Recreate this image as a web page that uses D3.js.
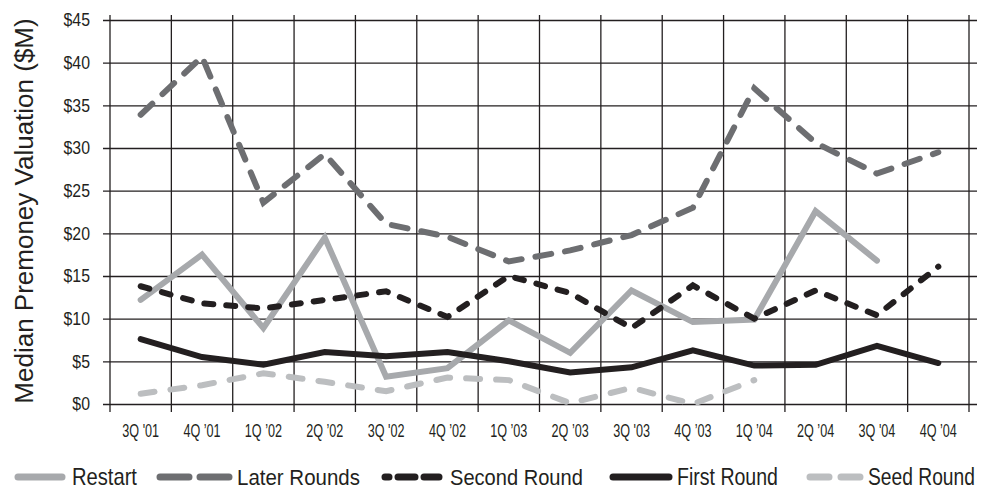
<!DOCTYPE html>
<html>
<head>
<meta charset="utf-8">
<script src="https://cdn.jsdelivr.net/npm/d3@7"></script>
<style>
  body { margin: 0; background: #fff; }
  svg { display: block; }
  text { font-family: "Liberation Sans", Arial, sans-serif; }
</style>
</head>
<body>
<svg width="982" height="491"></svg>
<script>
// data
const quarters = ["3Q '01","4Q \u201901","1Q \u201902","2Q \u201902","3Q '02","4Q \u201902","1Q \u201903",
                  "2Q \u201903","3Q '03","4Q \u201903","1Q \u201904","2Q \u201904","3Q '04","4Q \u201904"];
const restart      = [12.2, 17.5, 8.9, 19.5, 3.2, 4.2, 9.8, 6.0, 13.3, 9.6, 9.9, 22.6, 16.8, null];
const laterRounds  = [33.9, 40.7, 23.6, 29.3, 21.1, 19.6, 16.7, 18.0, 19.8, 23.0, 37.0, 30.6, 27.0, 29.5];
const secondRound  = [13.8, 11.8, 11.2, 12.2, 13.2, 10.2, 15.0, 13.0, 8.9, 13.9, 10.0, 13.3, 10.4, 16.1];
const firstRound   = [7.6, 5.5, 4.6, 6.1, 5.6, 6.1, 5.0, 3.7, 4.3, 6.3, 4.5, 4.6, 6.8, 4.8];
const seedRound    = [1.2, 2.2, 3.6, 2.6, 1.5, 3.1, 2.8, 0.1, 1.9, 0.0, 2.8, null, null, null];
const yTicks = [0, 5, 10, 15, 20, 25, 30, 35, 40, 45];

const series = [
  { name: "Restart",      values: restart,     color: "#a7a9ac", dash: null,    legendDash: null },
  { name: "Later Rounds", values: laterRounds, color: "#6d6e71", dash: "16,14", legendDash: "29,11" },
  { name: "Second Round", values: secondRound, color: "#231f20", dash: "9,13",  legendDash: "4,9,17,9,15,9" },
  { name: "First Round",  values: firstRound,  color: "#231f20", dash: null,    legendDash: null },
  { name: "Seed Round",   values: seedRound,   color: "#bcbec0", dash: "14,16", legendDash: "19,12" }
];

const svg = d3.select("svg");
const plotLeft = 110, plotRight = 969, plotTop = 20, plotBottom = 404;

// squeeze text horizontally, the source uses a condensed face
function condense(sel, f) {
  sel.each(function() {
    const w = this.getComputedTextLength();
    d3.select(this).attr("textLength", w * f).attr("lengthAdjust", "spacingAndGlyphs");
  });
}

const x = d3.scaleBand().domain(quarters).range([plotLeft, plotRight]);
const y = d3.scaleLinear().domain([0, 45]).range([plotBottom, plotTop]);

// horizontal grid + y labels
const yAxis = svg.append("g")
  .attr("transform", `translate(${plotLeft},0)`)
  .call(d3.axisLeft(y).tickValues(yTicks).tickFormat(d => "$" + d).tickSize(-(977 - plotLeft)).tickPadding(20));
yAxis.select(".domain").remove();
yAxis.selectAll(".tick line").attr("x1", -7).attr("stroke", "#231f20").attr("stroke-width", 1.3);
yAxis.selectAll(".tick text").attr("font-family", null).attr("font-size", 18).attr("fill", "#231f20")
  .call(condense, 0.88);

// vertical grid at band edges
const edges = quarters.map(q => x(q)).concat([x.range()[1]]);
svg.append("g").selectAll("line").data(edges).enter().append("line")
  .attr("x1", d => d).attr("x2", d => d)
  .attr("y1", 15).attr("y2", 412)
  .attr("stroke", "#231f20").attr("stroke-width", 1.3);

// x labels
const xAxis = svg.append("g")
  .attr("transform", `translate(0,${plotBottom})`)
  .call(d3.axisBottom(x).tickSize(0).tickPadding(20));
xAxis.select(".domain").remove();
xAxis.selectAll(".tick text").attr("font-family", null).attr("font-size", 18).attr("fill", "#231f20")
  .call(condense, 0.7);

// axis title
svg.append("text")
  .attr("transform", `translate(33,${(20 + 402) / 2}) rotate(-90)`)
  .attr("text-anchor", "middle")
  .attr("font-size", 26)
  .attr("fill", "#231f20")
  .text("Median Premoney Valuation ($M)");

// lines
const line = d3.line()
  .defined(d => d != null)
  .x((d, i) => x(quarters[i]) + x.bandwidth() / 2)
  .y(d => y(d));

svg.append("g").selectAll("path").data(series).enter().append("path")
  .attr("d", s => line(s.values))
  .attr("fill", "none")
  .attr("stroke", s => s.color)
  .attr("stroke-width", 6)
  .attr("stroke-linecap", "round")
  .attr("stroke-linejoin", "miter")
  .attr("stroke-dasharray", s => s.dash);

// legend
const legendPos = [
  { x0: 18,  x1: 62,  tx: 72,  w: 65 },
  { x0: 160, x1: 229, tx: 237, w: 123 },
  { x0: 385, x1: 445, tx: 450, w: 133 },
  { x0: 613, x1: 669, tx: 677, w: 101 },
  { x0: 810, x1: 860, tx: 868, w: 107 }
];
const legend = svg.append("g").selectAll("g").data(series).enter().append("g");
legend.append("line")
  .attr("x1", (s, i) => legendPos[i].x0).attr("x2", (s, i) => legendPos[i].x1)
  .attr("y1", 477).attr("y2", 477)
  .attr("stroke", s => s.color)
  .attr("stroke-width", 7)
  .attr("stroke-linecap", "round")
  .attr("stroke-dasharray", s => s.legendDash);
legend.append("text")
  .attr("font-size", 23)
  .attr("fill", "#231f20")
  .text(s => s.name)
  .each(function(s, i) {
    const k = legendPos[i].w / this.getComputedTextLength();
    d3.select(this).attr("transform", `translate(${legendPos[i].tx},485) scale(${k},1)`);
  });
</script>
</body>
</html>
